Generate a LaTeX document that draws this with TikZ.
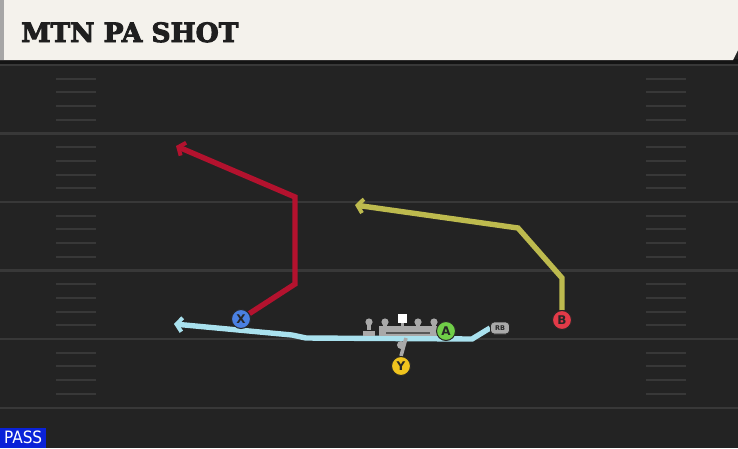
\documentclass[tikz,border=0pt]{standalone}
\usepackage{fontspec}
\setmainfont{DejaVu Sans}
\newfontfamily\titlefont[FakeBold=3.5]{DejaVu Serif Bold}
\newfontfamily\passfont{DejaVu Sans Condensed}
\usetikzlibrary{arrows.meta}
\definecolor{field}{HTML}{232323}
\definecolor{yardln}{HTML}{383838}
\definecolor{hdr}{HTML}{F4F2EC}
\definecolor{redrt}{HTML}{B3122E}
\definecolor{yelrt}{HTML}{BDBA4E}
\definecolor{cyanrt}{HTML}{A9E1EE}
\definecolor{olgray}{HTML}{A9A9A9}
\definecolor{passblue}{HTML}{0A22D8}
\tikzset{
  route/.style={line width=5.4pt, line join=miter, -{Straight Barb[length=5.5pt,width=14pt,line width=4pt]}},
  player/.style={circle, draw=black!85, line width=1pt, minimum size=19pt, inner sep=0pt, font=\bfseries\fontsize{12}{12}\selectfont, text=black!85},
  rbshape/.style={draw=black!85, line width=0.9pt, fill=olgray, rounded corners=3.5pt, minimum width=19pt, minimum height=12pt, inner sep=0pt, font=\bfseries\fontsize{6.5}{6.5}\selectfont, text=black!85},
  hashmark/.style={draw=yardln, line width=2pt},
  yardline/.style={draw=yardln, line width=2.4pt}
}
\begin{document}
\begin{tikzpicture}[x=1pt,y=-1pt]
\useasboundingbox (0,0) rectangle (738,448);
% field
\fill[field] (0,0) rectangle (738,448);
% yard lines
\foreach \y in {65,133.5,202,270.5,339,408}{
  \draw[yardline] (0,\y) -- (738,\y);
}
% hash marks
\foreach \b in {65,133.5,202,270.5,339}{
  \foreach \k in {1,2,3,4}{
    \draw[hashmark] (56,\b+13.7*\k) -- (96,\b+13.7*\k);
    \draw[hashmark] (646,\b+13.7*\k) -- (686,\b+13.7*\k);
  }
}
% header
\fill[black!92] (0,59) rectangle (738,64);
\fill[hdr] (0,0) -- (738,0) -- (738,50) -- (733,60) -- (0,60) -- cycle;
\fill[black!35] (0,0) rectangle (4,60);
\node[anchor=base west, inner sep=0pt, font=\titlefont\fontsize{26.5}{26.5}\selectfont, text=black!88] (title) at (21,42) {MTN PA SHOT};
% pass tag
\node[fill=passblue, text=white, anchor=south west, minimum width=46pt, minimum height=20pt, inner sep=0pt, font=\passfont\fontsize{17}{17}\selectfont] (pass) at (0,448) {PASS};

% players
\node[player, fill={rgb,255:red,74;green,128;blue,226}] (X) at (241,319) {X};
\node[player, fill={rgb,255:red,226;green,58;blue,72}] (B) at (562,320) {B};
\node[player, fill={rgb,255:red,112;green,206;blue,72}] (A) at (446,331) {A};
\node[player, fill={rgb,255:red,240;green,196;blue,30}] (Y) at (401,366) {Y};
\node[rbshape] (RB) at (500,328) {RB};

% route coordinates
\coordinate (r1) at (295,284);
\coordinate (r2) at (295,197);
\coordinate (r3) at (176,146);
\coordinate (y1) at (562,278);
\coordinate (y2) at (518,228);
\coordinate (y3) at (355,205);
\coordinate (c1) at (472,339);
\coordinate (c2) at (306,338);
\coordinate (c3) at (292,335);
\coordinate (c4) at (174,324);
\coordinate (qbtop) at (406,338);

% routes
\draw[route, draw=cyanrt] (RB.west) -- (c1) -- (c2) -- (c3) -- (c4);
\draw[route, draw=redrt] (X) -- (r1) -- (r2) -- (r3);
\draw[route, draw=yelrt] (B) -- (y1) -- (y2) -- (y3);

% offensive line
\fill[olgray] (363,331) rectangle (375,336);
\fill[olgray] (379,326) rectangle (437,336);
\fill[field!60!olgray] (386,331.5) rectangle (430,333.5);
\foreach \x in {369,385,418,434}{
  \fill[olgray] (\x-1.7,322) rectangle (\x+1.7,330);
  \fill[olgray] (\x,322) circle (3.6);
}
\fill[olgray] (400.5,320) rectangle (403.5,327);
\fill[white] (397.5,313.5) rectangle (406.5,322.5);
% QB stick
\draw[olgray, line width=3.6pt] (qbtop) -- (Y.north);
\fill[olgray] (401,345) circle (4);

% redraw players on top
\node[player, fill={rgb,255:red,74;green,128;blue,226}] at (X) {X};
\node[player, fill={rgb,255:red,226;green,58;blue,72}] at (B) {B};
\node[player, fill={rgb,255:red,112;green,206;blue,72}] at (A) {A};
\node[player, fill={rgb,255:red,240;green,196;blue,30}] at (Y) {Y};
\node[rbshape] at (RB) {RB};
\end{tikzpicture}
\end{document}
